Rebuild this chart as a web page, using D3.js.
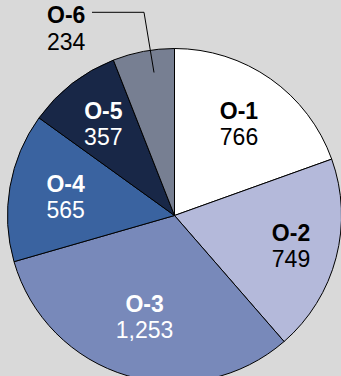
<!DOCTYPE html>
<html>
<head>
<meta charset="utf-8">
<script src="https://cdn.jsdelivr.net/npm/d3@7"></script>
<style>
  html, body { margin: 0; padding: 0; background: #d9d9d9; }
  svg { display: block; }
  text { font-family: "Liberation Sans", Arial, sans-serif; }
</style>
</head>
<body>
<svg id="chart" width="341" height="376"></svg>
<script>
// Slice data, clockwise from 12 o'clock
const categories = ["O-1", "O-2", "O-3", "O-4", "O-5", "O-6"];
const values = [766, 749, 1253, 565, 357, 234];
const fills = ["#ffffff", "#b4b9da", "#7889ba", "#3a63a0", "#182747", "#777f92"];
const textColors = ["#000", "#000", "#fff", "#fff", "#fff", "#000"];

const W = 341, H = 376;
const cx = 174.5, cy = 215.5, R = 167;

const svg = d3.select("#chart");
svg.append("rect").attr("width", W).attr("height", H).attr("fill", "#d9d9d9");

const data = categories.map((c, i) => ({ cat: c, value: values[i], i }));
const pie = d3.pie().value(d => d.value).sort(null);
const arcs = pie(data);
const arc = d3.arc().innerRadius(0).outerRadius(R);

const g = svg.append("g").attr("transform", `translate(${cx},${cy})`);

g.selectAll("path.slice")
  .data(arcs)
  .join("path")
  .attr("class", "slice")
  .attr("d", arc)
  .attr("fill", d => fills[d.data.i])
  .attr("stroke", "#000")
  .attr("stroke-width", 1)
  .attr("stroke-linejoin", "round");

// Label block centre radii (fraction of R) for the in-slice labels
const labelRadius = [0.671, 0.721, 0.633, 0.662, 0.695];
const fmt = d3.format(",");
const fs = 23, gap = 26;

arcs.forEach((a, k) => {
  if (k === 5) return;
  const mid = (a.startAngle + a.endAngle) / 2;
  const r = R * labelRadius[k];
  const x = Math.sin(mid) * r, y = -Math.cos(mid) * r;
  const t = g.append("text")
    .attr("text-anchor", "middle")
    .attr("fill", textColors[k])
    .attr("font-size", fs);
  t.append("tspan").attr("x", x).attr("y", y - 5).attr("font-weight", "bold").text(a.data.cat);
  t.append("tspan").attr("x", x).attr("y", y - 5 + gap).text(fmt(a.data.value));
});

// O-6 sits outside the pie with a leader line
const a6 = arcs[5];
const mid6 = (a6.startAngle + a6.endAngle) / 2 + 0.045;
const pr = R * 0.865;
const px = Math.sin(mid6) * pr, py = -Math.cos(mid6) * pr;
const lx = 47 - cx, ly = 22.7 - cy;
const elbowY = 12.3 - cy;
g.append("polyline")
  .attr("points", [[px, py], [px - 10, elbowY], [92 - cx, elbowY]].map(p => p.join(",")).join(" "))
  .attr("fill", "none")
  .attr("stroke", "#000")
  .attr("stroke-width", 1);
const t6 = g.append("text").attr("fill", textColors[5]).attr("font-size", fs);
t6.append("tspan").attr("x", lx).attr("y", ly).attr("font-weight", "bold").text(a6.data.cat);
t6.append("tspan").attr("x", lx).attr("y", ly + 27).text(fmt(a6.data.value));
</script>
</body>
</html>
